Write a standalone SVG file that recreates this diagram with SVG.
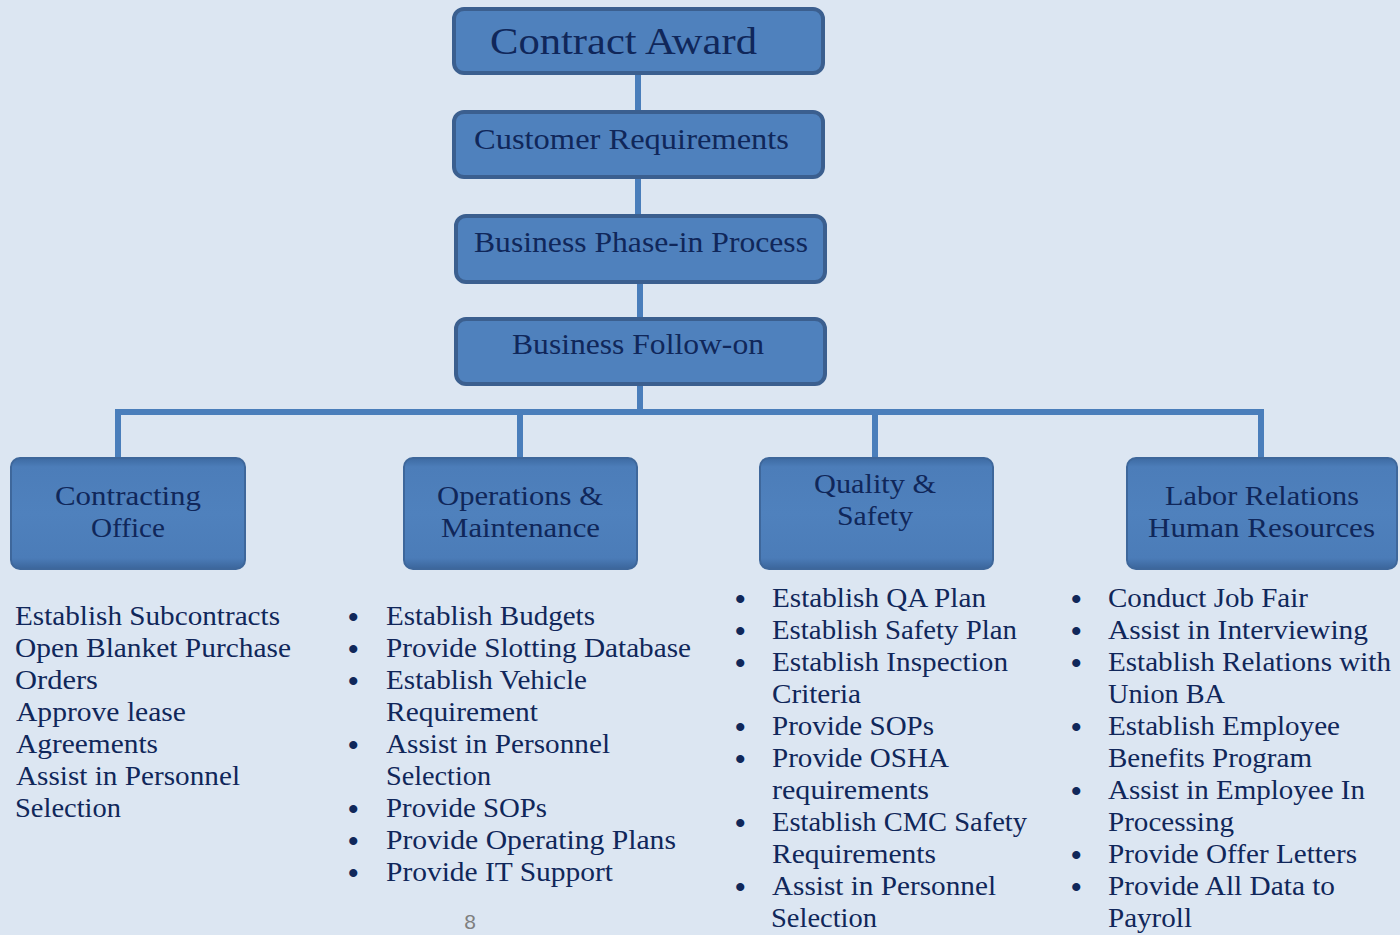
<svg xmlns="http://www.w3.org/2000/svg" width="1400" height="935" viewBox="0 0 1400 935">
<style>
.bg{fill:#dce6f2}
.top{fill:#4f81bd;stroke:#3b5f8f;stroke-width:4}
.sub{fill:url(#bev);stroke:#3e679b;stroke-width:2}
.conn{stroke:#4a7ebb;stroke-width:6;fill:none}
.t{font-family:"Liberation Serif",serif;fill:#10275a}
.h1{font-size:37px}
.h2{font-size:29px}
.h3{font-size:28px}
.li{font-size:27px}
.b{font-size:30px;font-weight:bold}
.pg{font-family:"Liberation Sans",sans-serif;font-size:21px;fill:#7f7f7f}
</style>
<defs>
<linearGradient id="bev" x1="0" y1="0" x2="0" y2="1">
<stop offset="0" stop-color="#3d6aa2"/>
<stop offset="0.08" stop-color="#4c7db9"/>
<stop offset="0.5" stop-color="#4f81bd"/>
<stop offset="0.9" stop-color="#4b7cb8"/>
<stop offset="1" stop-color="#3b659b"/>
</linearGradient>
</defs>
<rect class="bg" x="0" y="0" width="1400" height="935"/>
<g id="connectors">
<line class="conn" x1="638" y1="73" x2="638" y2="112"/>
<line class="conn" x1="638" y1="177" x2="638" y2="216"/>
<line class="conn" x1="640" y1="282" x2="640" y2="319"/>
<line class="conn" x1="640" y1="384" x2="640" y2="412"/>
<line class="conn" x1="115" y1="412" x2="1264" y2="412"/>
<line class="conn" x1="118" y1="412" x2="118" y2="458"/>
<line class="conn" x1="520" y1="412" x2="520" y2="458"/>
<line class="conn" x1="875" y1="412" x2="875" y2="458"/>
<line class="conn" x1="1261" y1="412" x2="1261" y2="458"/>
</g>
<g id="contract-award">
<rect class="top" x="454" y="9" width="369" height="64" rx="10"/>
<text class="t h1" x="490" y="54" textLength="267" lengthAdjust="spacingAndGlyphs">Contract Award</text>
</g>
<g id="customer-requirements">
<rect class="top" x="454" y="112" width="369" height="65" rx="10"/>
<text class="t h2" x="474" y="149" textLength="315" lengthAdjust="spacingAndGlyphs">Customer Requirements</text>
</g>
<g id="business-phase-in">
<rect class="top" x="456" y="216" width="369" height="66" rx="10"/>
<text class="t h2" x="474" y="252" textLength="334" lengthAdjust="spacingAndGlyphs">Business Phase-in Process</text>
</g>
<g id="business-follow-on">
<rect class="top" x="456" y="319" width="369" height="65" rx="10"/>
<text class="t h2" x="512" y="354" textLength="252" lengthAdjust="spacingAndGlyphs">Business Follow-on</text>
</g>
<g id="contracting-office">
<rect class="sub" x="11" y="458" width="234" height="111" rx="9"/>
<text class="t h3" x="55" y="505" textLength="146" lengthAdjust="spacingAndGlyphs">Contracting</text>
<text class="t h3" x="91" y="537" textLength="74" lengthAdjust="spacingAndGlyphs">Office</text>
</g>
<g id="operations-maintenance">
<rect class="sub" x="404" y="458" width="233" height="111" rx="9"/>
<text class="t h3" x="437" y="505" textLength="166" lengthAdjust="spacingAndGlyphs">Operations &amp;</text>
<text class="t h3" x="441" y="537" textLength="159" lengthAdjust="spacingAndGlyphs">Maintenance</text>
</g>
<g id="quality-safety">
<rect class="sub" x="760" y="458" width="233" height="111" rx="9"/>
<text class="t h3" x="814" y="493" textLength="122" lengthAdjust="spacingAndGlyphs">Quality &amp;</text>
<text class="t h3" x="837" y="525" textLength="76" lengthAdjust="spacingAndGlyphs">Safety</text>
</g>
<g id="labor-relations">
<rect class="sub" x="1127" y="458" width="270" height="111" rx="9"/>
<text class="t h3" x="1165" y="505" textLength="194" lengthAdjust="spacingAndGlyphs">Labor Relations</text>
<text class="t h3" x="1148" y="537" textLength="227" lengthAdjust="spacingAndGlyphs">Human Resources</text>
</g>
<g id="list-contracting" class="t li">
<text x="15" y="625" textLength="265" lengthAdjust="spacingAndGlyphs">Establish Subcontracts</text>
<text x="15" y="657" textLength="276" lengthAdjust="spacingAndGlyphs">Open Blanket Purchase</text>
<text x="15" y="689" textLength="83" lengthAdjust="spacingAndGlyphs">Orders</text>
<text x="16" y="721" textLength="170" lengthAdjust="spacingAndGlyphs">Approve lease</text>
<text x="16" y="753" textLength="142" lengthAdjust="spacingAndGlyphs">Agreements</text>
<text x="16" y="785" textLength="224" lengthAdjust="spacingAndGlyphs">Assist in Personnel</text>
<text x="15" y="817" textLength="106" lengthAdjust="spacingAndGlyphs">Selection</text>
</g>
<g id="list-operations" class="t li">
<text class="b" x="348" y="627">•</text>
<text class="b" x="348" y="659">•</text>
<text class="b" x="348" y="691">•</text>
<text class="b" x="348" y="755">•</text>
<text class="b" x="348" y="819">•</text>
<text class="b" x="348" y="851">•</text>
<text class="b" x="348" y="883">•</text>
<text x="386" y="625" textLength="209" lengthAdjust="spacingAndGlyphs">Establish Budgets</text>
<text x="386" y="657" textLength="305" lengthAdjust="spacingAndGlyphs">Provide Slotting Database</text>
<text x="386" y="689" textLength="201" lengthAdjust="spacingAndGlyphs">Establish Vehicle</text>
<text x="386" y="721" textLength="152" lengthAdjust="spacingAndGlyphs">Requirement</text>
<text x="386" y="753" textLength="224" lengthAdjust="spacingAndGlyphs">Assist in Personnel</text>
<text x="386" y="785" textLength="105" lengthAdjust="spacingAndGlyphs">Selection</text>
<text x="386" y="817" textLength="161" lengthAdjust="spacingAndGlyphs">Provide SOPs</text>
<text x="386" y="849" textLength="290" lengthAdjust="spacingAndGlyphs">Provide Operating Plans</text>
<text x="386" y="881" textLength="227" lengthAdjust="spacingAndGlyphs">Provide IT Support</text>
</g>
<g id="list-quality" class="t li">
<text class="b" x="735" y="609">•</text>
<text class="b" x="735" y="641">•</text>
<text class="b" x="735" y="673">•</text>
<text class="b" x="735" y="737">•</text>
<text class="b" x="735" y="769">•</text>
<text class="b" x="735" y="833">•</text>
<text class="b" x="735" y="897">•</text>
<text x="772" y="607" textLength="214" lengthAdjust="spacingAndGlyphs">Establish QA Plan</text>
<text x="772" y="639" textLength="245" lengthAdjust="spacingAndGlyphs">Establish Safety Plan</text>
<text x="772" y="671" textLength="236" lengthAdjust="spacingAndGlyphs">Establish Inspection</text>
<text x="772" y="703" textLength="89" lengthAdjust="spacingAndGlyphs">Criteria</text>
<text x="772" y="735" textLength="162" lengthAdjust="spacingAndGlyphs">Provide SOPs</text>
<text x="772" y="767" textLength="177" lengthAdjust="spacingAndGlyphs">Provide OSHA</text>
<text x="772" y="799" textLength="157" lengthAdjust="spacingAndGlyphs">requirements</text>
<text x="772" y="831" textLength="255" lengthAdjust="spacingAndGlyphs">Establish CMC Safety</text>
<text x="772" y="863" textLength="164" lengthAdjust="spacingAndGlyphs">Requirements</text>
<text x="772" y="895" textLength="224" lengthAdjust="spacingAndGlyphs">Assist in Personnel</text>
<text x="771" y="927" textLength="106" lengthAdjust="spacingAndGlyphs">Selection</text>
</g>
<g id="list-labor" class="t li">
<text class="b" x="1071" y="609">•</text>
<text class="b" x="1071" y="641">•</text>
<text class="b" x="1071" y="673">•</text>
<text class="b" x="1071" y="737">•</text>
<text class="b" x="1071" y="801">•</text>
<text class="b" x="1071" y="865">•</text>
<text class="b" x="1071" y="897">•</text>
<text x="1108" y="607" textLength="200" lengthAdjust="spacingAndGlyphs">Conduct Job Fair</text>
<text x="1108" y="639" textLength="260" lengthAdjust="spacingAndGlyphs">Assist in Interviewing</text>
<text x="1108" y="671" textLength="283" lengthAdjust="spacingAndGlyphs">Establish Relations with</text>
<text x="1108" y="703" textLength="117" lengthAdjust="spacingAndGlyphs">Union BA</text>
<text x="1108" y="735" textLength="232" lengthAdjust="spacingAndGlyphs">Establish Employee</text>
<text x="1108" y="767" textLength="204" lengthAdjust="spacingAndGlyphs">Benefits Program</text>
<text x="1108" y="799" textLength="257" lengthAdjust="spacingAndGlyphs">Assist in Employee In</text>
<text x="1108" y="831" textLength="126" lengthAdjust="spacingAndGlyphs">Processing</text>
<text x="1108" y="863" textLength="249" lengthAdjust="spacingAndGlyphs">Provide Offer Letters</text>
<text x="1108" y="895" textLength="227" lengthAdjust="spacingAndGlyphs">Provide All Data to</text>
<text x="1108" y="927" textLength="84" lengthAdjust="spacingAndGlyphs">Payroll</text>
</g>
<text class="pg" x="470" y="929" text-anchor="middle">8</text>
</svg>
